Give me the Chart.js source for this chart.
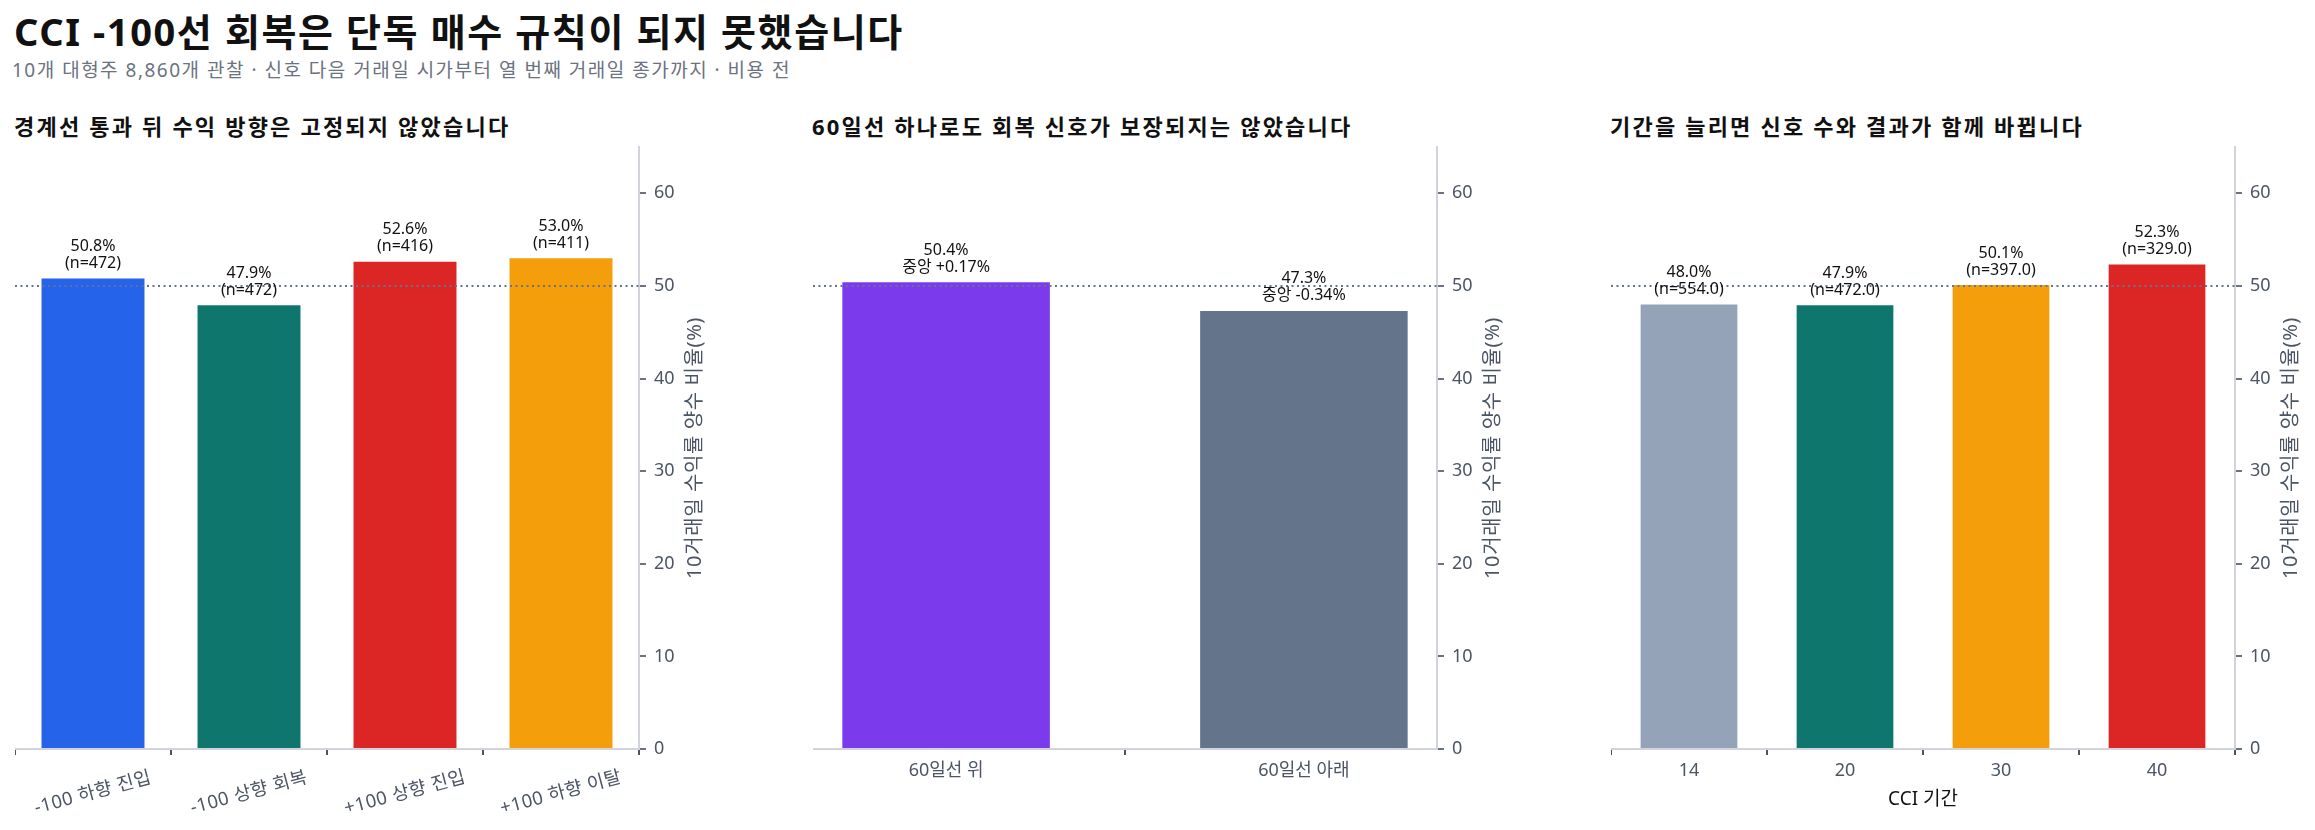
<!DOCTYPE html>
<html lang="ko">
<head>
<meta charset="utf-8">
<script src="https://cdn.jsdelivr.net/npm/chart.js@4.4.1/dist/chart.umd.min.js"></script>
<style>
  body { margin: 0; background: #fff; }
  #page { position: relative; width: 2315px; height: 830px; overflow: hidden;
          font-family: 'Noto Sans', 'Noto Sans CJK KR', sans-serif; color: #111; }
  .main-title { position: absolute; left: 14px; top: 11px; font-size: 38px; font-weight: 700; line-height: 1.1; letter-spacing: 1.6px; }
  .sub-title { position: absolute; left: 12px; top: 60px; font-size: 19px; color: #6b7280; line-height: 1.1; letter-spacing: 1.5px; }
  .panel-title { position: absolute; top: 114px; font-size: 22px; font-weight: 700; line-height: 1.1; letter-spacing: 2.2px; }
  .panel { position: absolute; top: 100px; height: 730px; }
</style>
</head>
<body>
<div id="page">
  <div class="main-title">CCI -100선 회복은 단독 매수 규칙이 되지 못했습니다</div>
  <div class="sub-title">10개 대형주 8,860개 관찰 · 신호 다음 거래일 시가부터 열 번째 거래일 종가까지 · 비용 전</div>

  <div class="panel-title" style="left:14px">경계선 통과 뒤 수익 방향은 고정되지 않았습니다</div>
  <div class="panel-title" style="left:812px">60일선 하나로도 회복 신호가 보장되지는 않았습니다</div>
  <div class="panel-title" style="left:1610px">기간을 늘리면 신호 수와 결과가 함께 바뀝니다</div>

  <div class="panel" style="left:15px;width:734px"><canvas id="signalChart"></canvas></div>
  <div class="panel" style="left:813px;width:734px"><canvas id="maChart"></canvas></div>
  <div class="panel" style="left:1611px;width:734px"><canvas id="periodChart"></canvas></div>
</div>

<script>
// panel 1: CCI 경계선 통과 유형
const signalLabels = ['-100 하향 진입', '-100 상향 회복', '+100 상향 진입', '+100 하향 이탈'];
const signalRates = [50.8, 47.9, 52.6, 53.0];
const signalCounts = [472, 472, 416, 411];

// panel 2: 60일선 위/아래
const maLabels = ['60일선 위', '60일선 아래'];
const maRates = [50.4, 47.3];
const maMedians = [0.17, -0.34];

// panel 3: CCI 기간
const periodLabels = ['14', '20', '30', '40'];
const periodRates = [48.0, 47.9, 50.1, 52.3];
const periodCounts = [554, 472, 397, 329];

const yTicks = [0, 10, 20, 30, 40, 50, 60];
const coinFlip = 50;

const FONT = "'Noto Sans', 'Noto Sans CJK KR', sans-serif";
const yTitle = '10거래일 수익률 양수 비율(%)';

// 50% 점선, 막대 위 주석, 축 제목을 그린다
const decorPlugin = {
    id: 'decor',
    afterDatasetsDraw(chart) {
        const ctx = chart.ctx;
        const area = chart.chartArea;
        const y = chart.scales.y;
        const x = chart.scales.x;
        const cfg = chart.options.plugins.decor;

        // dotted 50 line
        const y50 = y.getPixelForValue(coinFlip);
        ctx.save();
        ctx.strokeStyle = '#64748b';
        ctx.lineWidth = 2;
        ctx.setLineDash([2, 3.5]);
        ctx.beginPath();
        ctx.moveTo(area.left, y50);
        ctx.lineTo(area.right, y50);
        ctx.stroke();
        ctx.restore();

        // bar annotations
        const meta = chart.getDatasetMeta(0);
        ctx.save();
        ctx.fillStyle = '#111';
        ctx.font = '16px ' + FONT;
        ctx.textAlign = 'center';
        ctx.textBaseline = 'bottom';
        meta.data.forEach((bar, i) => {
            const lines = cfg.notes[i];
            let by = bar.y - 7;
            for (let k = lines.length - 1; k >= 0; k--) {
                ctx.fillText(lines[k], bar.x, by);
                by -= 17;
            }
        });
        ctx.restore();

        // rotated category labels (panel 1)
        if (cfg.rotated) {
            ctx.save();
            ctx.fillStyle = '#4b5563';
            ctx.font = '18.5px ' + FONT;
            ctx.letterSpacing = '0.5px';
            ctx.textAlign = 'center';
            ctx.textBaseline = 'middle';
            cfg.labels.forEach((lab, i) => {
                ctx.save();
                ctx.translate(x.getPixelForValue(i), area.bottom + 44);
                ctx.rotate(-15 * Math.PI / 180);
                ctx.fillText(lab, 0, 0);
                ctx.restore();
            });
            ctx.restore();
        }

        // x axis title
        if (cfg.xTitle) {
            ctx.save();
            ctx.fillStyle = '#111';
            ctx.font = '19px ' + FONT;
            ctx.textAlign = 'center';
            ctx.textBaseline = 'middle';
            ctx.fillText(cfg.xTitle, (area.left + area.right) / 2, area.bottom + 51);
            ctx.restore();
        }

        // y axis title, reading bottom to top
        ctx.save();
        ctx.fillStyle = '#4b5563';
        ctx.font = '20px ' + FONT;
        ctx.letterSpacing = '0.6px';
        ctx.textAlign = 'center';
        ctx.textBaseline = 'middle';
        ctx.translate(area.right + 56, (area.top + area.bottom) / 2);
        ctx.rotate(-Math.PI / 2);
        ctx.fillText(yTitle, 0, 0);
        ctx.restore();
    }
};

function makePanel(id, labels, rates, colors, notes, opts) {
    const el = document.getElementById(id);
    return new Chart(el, {
        type: 'bar',
        data: {
            datasets: [{
                data: rates.map((v, i) => ({ x: i, y: v })),
                backgroundColor: colors,
                borderWidth: 0,
                categoryPercentage: 1,
                barPercentage: opts.barPct
            }]
        },
        options: {
            responsive: true,
            maintainAspectRatio: false,
            animation: false,
            layout: { padding: { top: 47, left: 0, right: 0, bottom: 0 } },
            plugins: {
                legend: { display: false },
                tooltip: { enabled: false },
                decor: { notes: notes, labels: labels, rotated: opts.rotated, xTitle: opts.xTitle }
            },
            scales: {
                x: {
                    type: 'linear',
                    min: opts.xMin,
                    max: opts.xMax,
                    offset: false,
                    afterBuildTicks: s => { s.ticks = labels.map((_, i) => ({ value: i })); },
                    afterFit: s => { s.height = 81; },
                    grid: { drawOnChartArea: false, drawTicks: true, tickLength: 6, color: '#4b5563', lineWidth: 2 },
                    border: { color: '#d1d5db', width: 2 },
                    ticks: {
                        display: !opts.rotated,
                        autoSkip: false,
                        maxRotation: 0,
                        padding: 5,
                        color: '#4b5563',
                        font: { family: FONT, size: 18 },
                        callback: (v, i) => labels[i]
                    }
                },
                y: {
                    position: 'right',
                    min: 0,
                    max: 65,
                    afterBuildTicks: s => { s.ticks = yTicks.map(v => ({ value: v })); },
                    afterFit: s => { s.width = 110; },
                    grid: { drawOnChartArea: false, drawTicks: true, tickLength: 7, color: '#6b7280', lineWidth: 2 },
                    border: { color: '#d1d5db', width: 2 },
                    ticks: {
                        padding: 8,
                        color: '#4b5563',
                        font: { family: FONT, size: 18 }
                    }
                }
            }
        },
        plugins: [decorPlugin]
    });
}

const pct = v => v.toFixed(1) + '%';
const signed = v => (v > 0 ? '+' : '') + v.toFixed(2) + '%';

makePanel('signalChart', signalLabels, signalRates,
    ['#2563eb', '#0f766e', '#dc2626', '#f59e0b'],
    signalRates.map((v, i) => [pct(v), '(n=' + signalCounts[i] + ')']),
    { xMin: -0.5, xMax: 3.5, barPct: 0.66, rotated: true });

makePanel('maChart', maLabels, maRates,
    ['#7c3aed', '#64748b'],
    maRates.map((v, i) => [pct(v), '중앙 ' + signed(maMedians[i])]),
    { xMin: -0.372, xMax: 1.372, barPct: 0.58, rotated: false });

makePanel('periodChart', periodLabels, periodRates,
    ['#94a3b8', '#0f766e', '#f59e0b', '#dc2626'],
    periodRates.map((v, i) => [pct(v), '(n=' + periodCounts[i].toFixed(1) + ')']),
    { xMin: -0.5, xMax: 3.5, barPct: 0.62, rotated: false, xTitle: 'CCI 기간' });
</script>
</body>
</html>
